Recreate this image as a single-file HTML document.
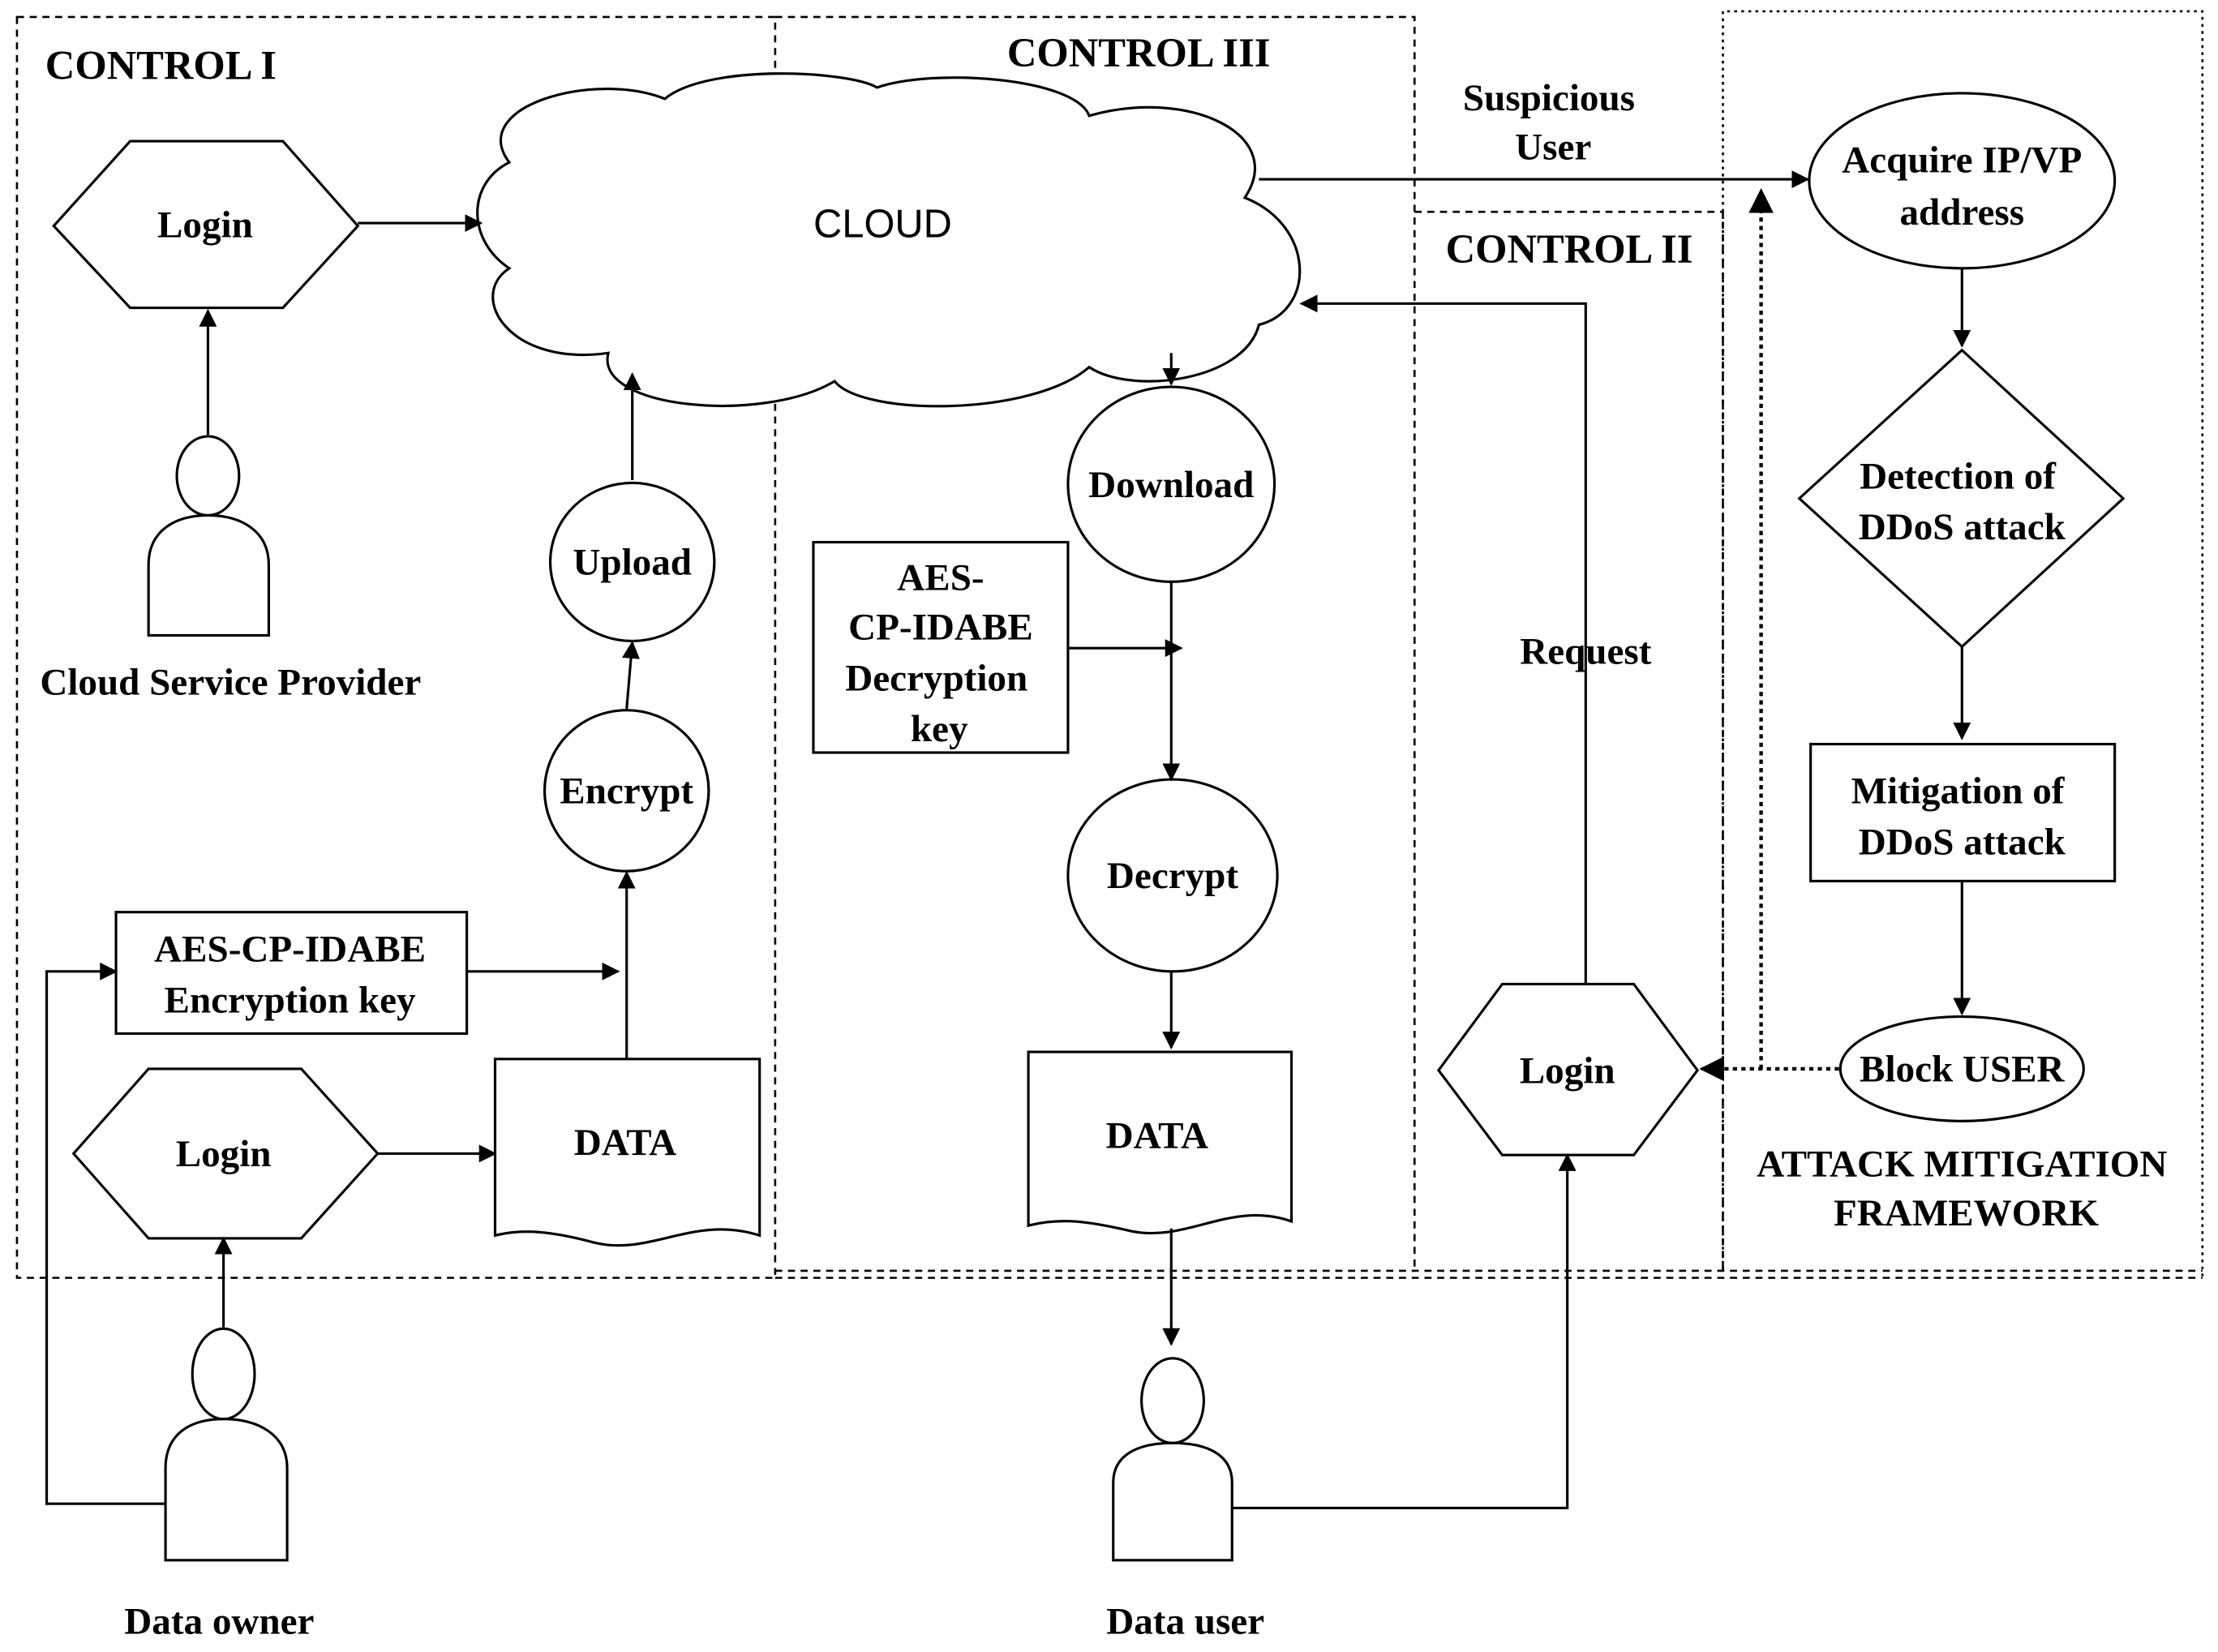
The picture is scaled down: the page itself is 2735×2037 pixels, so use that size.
<!DOCTYPE html>
<html><head><meta charset="utf-8"><style>html,body{margin:0;padding:0;background:#fff}svg{display:block}</style></head>
<body>
<svg width="2735" height="2037" viewBox="0 0 1568 1170" preserveAspectRatio="none" xmlns="http://www.w3.org/2000/svg">
<defs>
<marker id="a" viewBox="0 0 10 10" refX="9" refY="5" markerWidth="7" markerHeight="7" orient="auto-start-reverse"><path d="M0,0 L10,5 L0,10 z" fill="#000"/></marker>
</defs>
<rect width="1568" height="1170" fill="#fff"/>
<g fill="none" stroke="#000" stroke-width="1.5" stroke-dasharray="5,4">
<path d="M12,12 H548 V905 H12 Z"/>
<path d="M548,12 H1000 V900"/>
<path d="M548,900 H1557"/>
<path d="M548,905 H1557"/>
<path d="M1000,150 H1218 V900"/>
<path d="M1218,900 V8 H1557 V905" stroke-dasharray="2,3"/>
</g>
<g font-family="Liberation Serif, serif" font-weight="bold" font-size="29" fill="#000">
<text x="32" y="56">CONTROL I</text>
<text x="712" y="47">CONTROL III</text>
<text x="1022" y="186">CONTROL II</text>
</g>
<!-- cloud -->
<path d="M360,115 C330,75 420,50 470,70 C500,45 600,50 620,62 C660,48 760,55 770,82 C840,62 910,95 880,140 C930,160 930,220 890,230 C880,270 800,280 770,260 C730,295 610,295 590,270 C540,300 420,290 430,250 C360,260 330,210 360,190 C330,170 330,130 360,115 Z" fill="#fff" stroke="#000" stroke-width="1.8"/>
<text x="624" y="168" font-family="Liberation Sans, sans-serif" font-size="28" text-anchor="middle">CLOUD</text>
<g fill="none" stroke="#000" stroke-width="1.8">
<path d="M38,160 L92,100 H200 L253,160 L200,218 H92 Z"/>
<path d="M52,817 L105,757 H213 L267,817 L213,877 H105 Z"/>
<path d="M1017,758 L1062,697 H1155 L1200,758 L1155,818 H1062 Z"/>
<ellipse cx="147" cy="337" rx="22" ry="28"/>
<path d="M105,450 V400 C105,375 125,365 147,365 C169,365 190,375 190,400 V450 Z"/>
<ellipse cx="158" cy="973" rx="22" ry="32"/>
<path d="M117,1105 V1040 C117,1015 135,1005 158,1005 C181,1005 203,1015 203,1040 V1105 Z"/>
<ellipse cx="829" cy="992" rx="22" ry="30"/>
<path d="M787,1105 V1050 C787,1030 805,1022 829,1022 C853,1022 871,1030 871,1050 V1105 Z"/>
<ellipse cx="447" cy="398" rx="58" ry="56"/>
<ellipse cx="443" cy="560" rx="58" ry="57"/>
<ellipse cx="828" cy="343" rx="73" ry="69"/>
<ellipse cx="829" cy="620" rx="74" ry="68"/>
<ellipse cx="1387" cy="128" rx="108" ry="62"/>
<ellipse cx="1387" cy="757" rx="86" ry="37"/>
<rect x="82" y="646" width="248" height="86"/>
<rect x="575" y="384" width="180" height="149"/>
<rect x="1280" y="527" width="215" height="97"/>
<path d="M1387,248 L1501,353 L1387,458 L1272,353 Z"/>
<path d="M350,750 H537 V875 C490,860 460,890 420,880 C390,872 370,870 350,875 Z"/>
<path d="M727,745 H913 V865 C870,850 840,880 800,872 C770,865 750,862 727,868 Z"/>
</g>
<g fill="none" stroke="#000" stroke-width="1.8">
<path d="M253,158 H340" marker-end="url(#a)"/>
<path d="M147,308 V220" marker-end="url(#a)"/>
<path d="M443,502 L447,455" marker-end="url(#a)"/>
<path d="M447,340 V265" marker-end="url(#a)"/>
<path d="M330,688 H437" marker-end="url(#a)"/>
<path d="M443,750 V618" marker-end="url(#a)"/>
<path d="M267,817 H350" marker-end="url(#a)"/>
<path d="M158,940 V877" marker-end="url(#a)"/>
<path d="M117,1065 H33 V688 H82" marker-end="url(#a)"/>
<path d="M828,250 V272" marker-end="url(#a)"/>
<path d="M755,459 H835" marker-end="url(#a)"/>
<path d="M828,412 V552" marker-end="url(#a)"/>
<path d="M828,688 V742" marker-end="url(#a)"/>
<path d="M828,870 V952" marker-end="url(#a)"/>
<path d="M871,1068 H1108 V818" marker-end="url(#a)"/>
<path d="M1121,697 V215 H920" marker-end="url(#a)"/>
<path d="M890,127 H1278" marker-end="url(#a)"/>
<path d="M1387,190 V245" marker-end="url(#a)"/>
<path d="M1387,458 V523" marker-end="url(#a)"/>
<path d="M1387,624 V718" marker-end="url(#a)"/>
<path d="M1300,757 H1203" stroke-dasharray="3,3" stroke-width="2.5" marker-end="url(#a)"/>
<path d="M1245,757 V135" stroke-dasharray="3,3" stroke-width="2.5" marker-end="url(#a)"/>
</g>
<g font-family="Liberation Serif, serif" font-weight="bold" font-size="27" fill="#000" text-anchor="middle">
<text x="145" y="168">Login</text>
<text x="158" y="826">Login</text>
<text x="1108" y="767">Login</text>
<text x="163" y="492">Cloud Service Provider</text>
<text x="447" y="407">Upload</text>
<text x="443" y="569">Encrypt</text>
<text x="205" y="681">AES-CP-IDABE</text>
<text x="205" y="717">Encryption key</text>
<text x="442" y="818">DATA</text>
<text x="155" y="1157">Data owner</text>
<text x="828" y="352">Download</text>
<text x="665" y="418">AES-</text>
<text x="665" y="453">CP-IDABE</text>
<text x="662" y="489">Decryption</text>
<text x="664" y="525">key</text>
<text x="829" y="629">Decrypt</text>
<text x="818" y="813">DATA</text>
<text x="838" y="1157">Data user</text>
<text x="1121" y="470">Request</text>
<text x="1095" y="78">Suspicious</text>
<text x="1098" y="113">User</text>
<text x="1387" y="122">Acquire IP/VP</text>
<text x="1387" y="159">address</text>
<text x="1384" y="346">Detection of</text>
<text x="1387" y="382">DDoS attack</text>
<text x="1384" y="569">Mitigation of</text>
<text x="1387" y="605">DDoS attack</text>
<text x="1387" y="766">Block USER</text>
<text x="1387" y="833">ATTACK MITIGATION</text>
<text x="1390" y="868">FRAMEWORK</text>
</g>
</svg>
</body></html>
